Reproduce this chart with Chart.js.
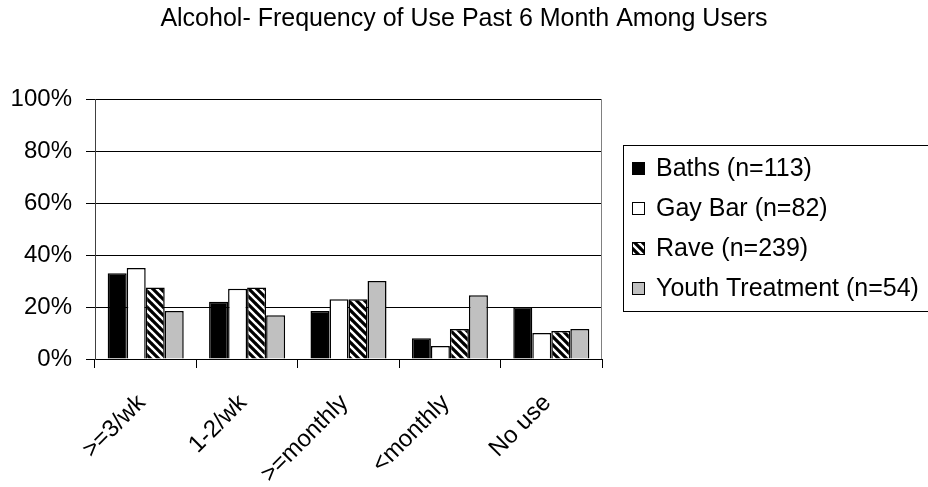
<!DOCTYPE html>
<html>
<head>
<meta charset="utf-8">
<script src="https://cdn.jsdelivr.net/npm/chart.js@4.4.1/dist/chart.umd.min.js"></script>
<style>
  html, body { margin: 0; padding: 0; background: #fff; }
  #wrap { width: 928px; height: 487px; }
</style>
</head>
<body>
<div id="wrap"><canvas id="c" width="928" height="487"></canvas></div>
<script>
// Frequency categories and the share of each sample (percent)
const categories = ['>=3/wk', '1-2/wk', '>=monthly', '<monthly', 'No use'];
const seriesNames = ['Baths (n=113)', 'Gay Bar (n=82)', 'Rave (n=239)', 'Youth Treatment (n=54)'];
const baths = [33, 22, 18.5, 8, 20];
const gayBar = [35, 27, 23, 5, 10];
const rave = [27.5, 27.5, 23, 11.5, 10.8];
const youthTreatment = [18.5, 16.8, 30, 24.5, 11.5];
const yTicks = [0, 20, 40, 60, 80, 100];
const chartTitle = 'Alcohol- Frequency of Use Past 6 Month Among Users';

const FONT = "'Liberation Sans', Arial, sans-serif";

// Diagonal hatch used for the Rave series
function makeHatch() {
  const s = 8;
  const cv = document.createElement('canvas');
  cv.width = s; cv.height = s;
  const g = cv.getContext('2d');
  g.fillStyle = '#fff';
  g.fillRect(0, 0, s, s);
  g.strokeStyle = '#000';
  g.lineWidth = 3.2;
  g.beginPath();
  for (let k = -1; k <= 1; k++) {
    g.moveTo(-1, k * s - 1);
    g.lineTo(s + 1, s + k * s + 1);
  }
  g.stroke();
  return g.createPattern(cv, 'repeat');
}
const hatch = makeHatch();

// Title centred over the whole canvas
const pageTitle = {
  id: 'pageTitle',
  afterDraw(chart) {
    const ctx = chart.ctx;
    ctx.save();
    ctx.font = '25px ' + FONT;
    ctx.fillStyle = '#000';
    ctx.textAlign = 'center';
    ctx.textBaseline = 'middle';
    ctx.fillText(chartTitle, chart.width / 2, 19);
    ctx.restore();
  }
};

// Boxed legend on the right, drawn from the dataset labels and fills
const boxLegend = {
  id: 'boxLegend',
  afterDraw(chart) {
    const ctx = chart.ctx;
    ctx.save();
    ctx.strokeStyle = '#000';
    ctx.lineWidth = 1;
    ctx.strokeRect(623.5, 145.5, 330, 166);
    ctx.font = '25px ' + FONT;
    ctx.textBaseline = 'middle';
    ctx.textAlign = 'left';
    chart.data.datasets.forEach((ds, i) => {
      const cy = 168 + i * 40;
      ctx.fillStyle = ds.backgroundColor;
      ctx.fillRect(632, cy - 6, 13, 13);
      ctx.strokeStyle = '#000';
      ctx.strokeRect(632.5, cy - 5.5, 12, 12);
      ctx.fillStyle = '#000';
      ctx.fillText(ds.label, 656, cy + 1);
    });
    ctx.restore();
  }
};

// Right-hand frame line of the plot area
const plotFrame = {
  id: 'plotFrame',
  beforeDatasetsDraw(chart) {
    const { ctx, chartArea: a } = chart;
    ctx.save();
    ctx.strokeStyle = '#808080';
    ctx.lineWidth = 1;
    ctx.beginPath();
    ctx.moveTo(Math.round(a.right) - 0.5, a.top);
    ctx.lineTo(Math.round(a.right) - 0.5, a.bottom);
    ctx.stroke();
    ctx.restore();
  }
};

const fills = ['#000000', '#ffffff', hatch, '#c0c0c0'];
const values = [baths, gayBar, rave, youthTreatment];

new Chart(document.getElementById('c'), {
  type: 'bar',
  data: {
    labels: categories,
    datasets: values.map((v, i) => ({
      label: seriesNames[i],
      data: v,
      backgroundColor: fills[i],
      borderColor: '#000',
      borderWidth: 1.5,
      categoryPercentage: 0.75,
      barPercentage: 1.0
    }))
  },
  options: {
    responsive: false,
    animation: false,
    devicePixelRatio: 1,
    layout: { padding: { left: 0, right: 326, top: 99, bottom: 0 } },
    plugins: {
      legend: { display: false },
      tooltip: { enabled: false },
      title: { display: false }
    },
    scales: {
      x: {
        afterFit(scale) { scale.height = 128; },
        grid: {
          offset: true,
          drawOnChartArea: false,
          drawTicks: true,
          tickLength: 9,
          color: '#000'
        },
        border: { color: '#000', width: 1 },
        ticks: {
          color: '#000',
          font: { family: FONT, size: 24 },
          maxRotation: 45,
          minRotation: 45,
          padding: 21,
          labelOffset: -4
        }
      },
      y: {
        min: 0,
        max: 100,
        afterFit(scale) { scale.width = 95; },
        afterBuildTicks(scale) { scale.ticks = yTicks.map(v => ({ value: v })); },
        grid: {
          color: '#000',
          lineWidth: 1,
          drawTicks: true,
          tickLength: 9
        },
        border: { color: '#404040', width: 1 },
        ticks: {
          color: '#000',
          font: { family: FONT, size: 24 },
          padding: 14,
          callback: v => v + '%'
        }
      }
    }
  },
  plugins: [plotFrame, boxLegend, pageTitle]
});
</script>
</body>
</html>
